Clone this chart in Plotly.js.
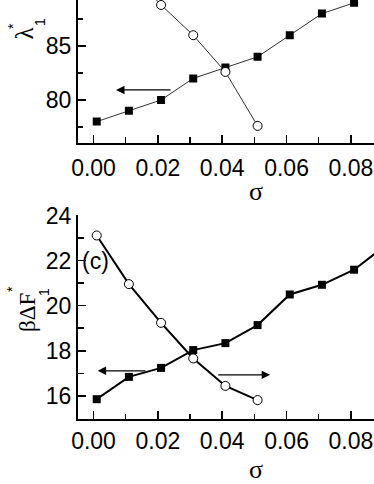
<!DOCTYPE html>
<html>
<head>
<meta charset="utf-8">
<script src="https://cdn.plot.ly/plotly-3.0.1.min.js"></script>
<style>
  html, body { margin: 0; padding: 0; background: #fff; }
  #plot { width: 374px; height: 484px; }
</style>
</head>
<body>
<div id="plot"></div>
<script>
// sigma values (shifted slightly off the grid, as in the figure)
const sigma = [0.001, 0.011, 0.021, 0.031, 0.041, 0.051, 0.061, 0.071, 0.081, 0.091];

// top panel: lambda*_1
const lambdaSq = [78.0, 79.0, 80.0, 82.0, 83.0, 84.0, 86.0, 88.0, 89.0];
const lambdaCircSigma = [0.011, 0.021, 0.031, 0.041, 0.051];
const lambdaCirc = [92.0, 88.8, 86.0, 82.6, 77.6];

// bottom panel (c): beta dF*_1
const dfSq = [15.85, 16.84, 17.24, 18.03, 18.34, 19.14, 20.5, 20.93, 21.6, 22.7];
const dfCircSigma = [0.001, 0.011, 0.021, 0.031, 0.041, 0.051];
const dfCirc = [23.12, 20.96, 19.24, 17.66, 16.44, 15.81];

const font = "Liberation Sans, Arial, sans-serif";
const serif = "Liberation Serif, Times New Roman, serif";
const xr = [-0.00482, 0.08719];

const sq = { symbol: 'square', size: 8, color: '#000' };
const circ = { symbol: 'circle', size: 9, color: '#fff', line: { color: '#000', width: 1 } };

const traces = [
  { x: sigma.slice(0, lambdaSq.length), y: lambdaSq, xaxis: 'x2', yaxis: 'y2',
    mode: 'lines+markers', line: { color: '#333', width: 1 }, marker: sq },
  { x: lambdaCircSigma, y: lambdaCirc, xaxis: 'x2', yaxis: 'y2',
    mode: 'lines+markers', line: { color: '#333', width: 1 }, marker: circ },
  { x: sigma, y: dfSq, xaxis: 'x', yaxis: 'y',
    mode: 'lines+markers', line: { color: '#000', width: 2 }, marker: sq },
  { x: dfCircSigma, y: dfCirc, xaxis: 'x', yaxis: 'y',
    mode: 'lines+markers', line: { color: '#000', width: 2 }, marker: circ }
];

const axBase = {
  showline: true, linecolor: '#000', linewidth: 2, showgrid: false, zeroline: false,
  ticks: 'inside', ticklen: 8, tickwidth: 1.5, tickcolor: '#000',
  tickfont: { family: font, size: 23, color: '#000' }, fixedrange: true
};

function arrow(xref, yref, x, y, ax) {
  return { xref: xref, yref: yref, axref: xref, ayref: yref, x: x, y: y, ax: ax, ay: y,
    text: '', showarrow: true, arrowhead: 2, arrowsize: 1.3, arrowwidth: 1.3, arrowcolor: '#000' };
}
// paper-positioned text (titles sit outside the axis ranges)
function txt(x, y, t, size, fam, angle) {
  return { xref: 'paper', yref: 'paper', x: x, y: y, text: t, showarrow: false,
    xanchor: 'center', yanchor: 'middle',
    textangle: angle || 0, font: { family: fam, size: size, color: '#000' } };
}

const layout = {
  width: 374, height: 484,
  margin: { l: 78, r: 0, t: 0, b: 65 },
  showlegend: false,
  paper_bgcolor: '#fff', plot_bgcolor: '#fff',
  xaxis: Object.assign({}, axBase, { anchor: 'y', range: xr, dtick: 0.02, tickformat: '.2f',
    minor: { dtick: 0.01, ticks: 'inside', ticklen: 5, tickcolor: '#000', tickwidth: 1.5 } }),
  xaxis3: Object.assign({}, axBase, { overlaying: 'x', side: 'top', anchor: 'y', range: xr,
    dtick: 0.01, showticklabels: false,
    minor: { dtick: 0.005, ticks: 'inside', ticklen: 4, tickcolor: '#000', tickwidth: 1.5 } }),
  yaxis: Object.assign({}, axBase, { anchor: 'x', domain: [0, 0.4869], range: [14.97, 24.03], dtick: 2,
    minor: { dtick: 1, ticks: 'inside', ticklen: 6, tickcolor: '#000', tickwidth: 1.5 } }),
  xaxis2: Object.assign({}, axBase, { anchor: 'y2', range: xr, dtick: 0.02, tickformat: '.2f',
    ticklabelstandoff: 3,
    minor: { dtick: 0.01, ticks: 'inside', ticklen: 6, tickcolor: '#000', tickwidth: 1.5 } }),
  yaxis2: Object.assign({}, axBase, { anchor: 'x2', domain: [0.658, 1], range: [75.99, 89.26], dtick: 5,
    minor: { dtick: 2.5, ticks: 'inside', ticklen: 5, tickcolor: '#000', tickwidth: 1.5 } }),
  annotations: [
    arrow('x2', 'y2', 0.0070, 80.93, 0.0244),
    arrow('x', 'y', 0.0013, 17.11, 0.0166),
    arrow('x', 'y', 0.0549, 16.93, 0.0383),
    { xref: 'x', yref: 'y', x: 0.0005, y: 22.0, text: '(c)', showarrow: false,
      font: { family: font, size: 23, color: '#000' } },
    // axis titles
    txt(-0.1807, 0.9189, 'λ', 25, serif, -90),
    txt(-0.2196, 0.938, '*', 14, font, -90),
    txt(-0.1284, 0.9475, '1', 14, font, -90),
    txt(-0.1689, 0.253, 'βΔF', 23, serif, -90),
    txt(-0.223, 0.310, '*', 14, font, -90),
    txt(-0.1149, 0.303, '1', 14, font, -90),
    txt(0.601, 0.5418, 'σ', 26, serif),
    txt(0.601, -0.1217, 'σ', 26, serif)
  ]
};

Plotly.newPlot('plot', traces, layout, { staticPlot: true });
</script>
</body>
</html>
